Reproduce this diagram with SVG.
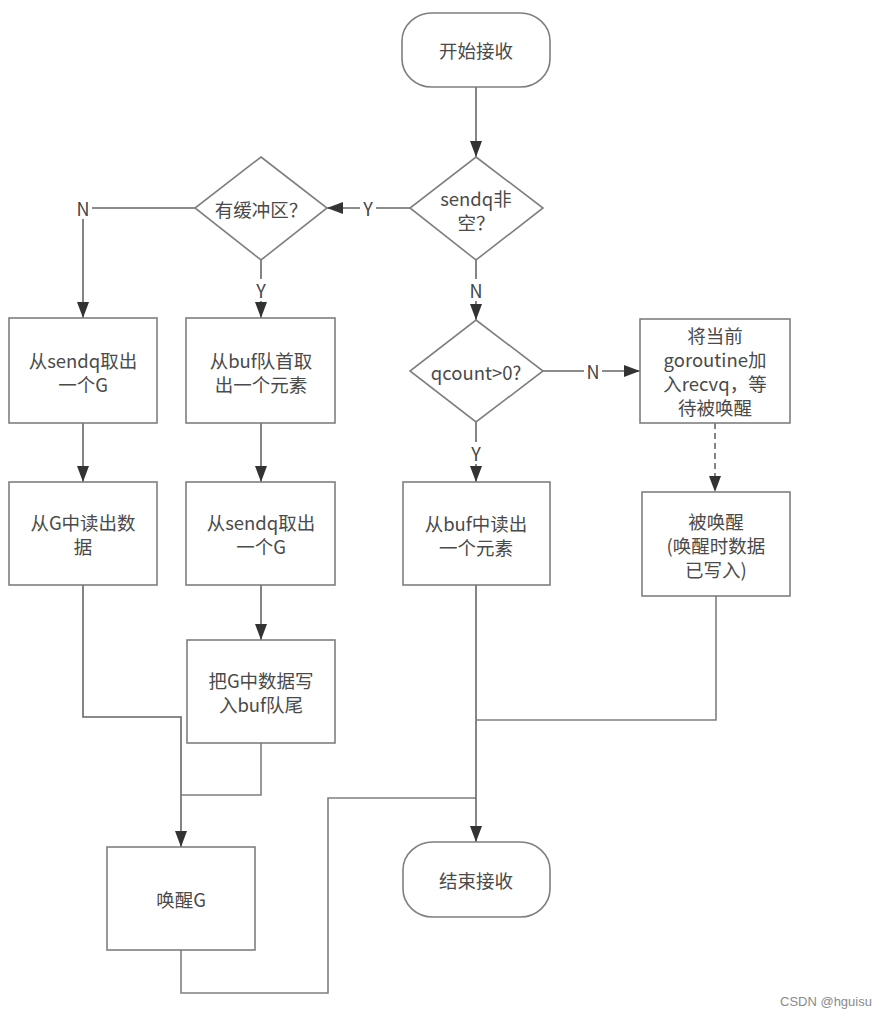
<svg xmlns="http://www.w3.org/2000/svg" width="872" height="1016" viewBox="0 0 872 1016">
<defs>
<marker id="arr" markerUnits="userSpaceOnUse" markerWidth="16" markerHeight="12" refX="16" refY="6" orient="auto">
<path d="M0,0 L16,6 L0,12 z" fill="#333"/>
</marker>
<style>
.box{fill:#fff;stroke:#7f7f7f;stroke-width:1.6}
.t{font-family:"Noto Sans CJK SC","Microsoft YaHei",sans-serif;font-size:18.5px;fill:#4a4a4a;text-anchor:middle;dominant-baseline:central}
.c{fill:none;stroke:#7f7f7f;stroke-width:1.6}
.ca{fill:none;stroke:#666;stroke-width:1.6;marker-end:url(#arr)}
.d{stroke-dasharray:6 4}
.lb{fill:#fff}
.l{font-family:"Noto Sans CJK SC","Microsoft YaHei",sans-serif;font-size:18px;fill:#444;text-anchor:middle;dominant-baseline:central}
.wm{font-family:"Liberation Sans",Arial,sans-serif;font-size:13px;fill:#8a8a8a}
</style>
</defs>
<rect width="872" height="1016" fill="#fff"/>
<g id="connectors">
<path class="ca" d="M476,87 V157"/>
<path class="ca" d="M410,208 H327"/>
<path class="ca" d="M195,208 H83 V318"/>
<path class="ca" d="M261,260 V318"/>
<path class="ca" d="M476,260 V320"/>
<path class="ca" d="M543,371 H640"/>
<path class="ca" d="M476,422 V482"/>
<path class="ca d" d="M715,423 V492"/>
<path class="ca" d="M83,423 V482"/>
<path class="ca" d="M261,423 V482"/>
<path class="ca" d="M261,585 V640"/>
<path class="ca" d="M83,585 V717 H181 V847"/>
<path class="c" d="M261,743 V795 H181"/>
<path class="c" d="M181,950 V993 H328 V798 H476"/>
<path class="ca" d="M476,585 V842"/>
<path class="c" d="M716,596 V720 H476"/>
<rect class="lb" x="360" y="197" width="16" height="22"/><text class="l" x="368" y="208">Y</text>
<rect class="lb" x="74" y="197" width="18" height="22"/><text class="l" x="83" y="208">N</text>
<rect class="lb" x="253" y="279" width="16" height="22"/><text class="l" x="261" y="290">Y</text>
<rect class="lb" x="467" y="279" width="18" height="22"/><text class="l" x="476" y="290">N</text>
<rect class="lb" x="584" y="360" width="18" height="22"/><text class="l" x="593" y="371">N</text>
<rect class="lb" x="468" y="442" width="16" height="22"/><text class="l" x="476" y="453">Y</text>
</g>
<g id="start"><rect class="box" x="402" y="13" width="148" height="74" rx="30" ry="28"/><text class="t" x="476" y="50">开始接收</text></g>
<g id="sendq"><polygon class="box" points="476,157 543,208 476,260 410,208"/><text class="t" x="476" y="198">sendq非</text><text class="t" x="476" y="222">空？</text></g>
<g id="hasbuf"><polygon class="box" points="261,157 327,208 261,260 195,208"/><text class="t" x="261" y="209">有缓冲区？</text></g>
<g id="take-sendq-1"><rect class="box" x="9" y="318" width="148" height="105"/><text class="t" x="83" y="360">从sendq取出</text><text class="t" x="83" y="384">一个G</text></g>
<g id="take-buf-head"><rect class="box" x="186" y="318" width="149" height="105"/><text class="t" x="261" y="360">从buf队首取</text><text class="t" x="261" y="384">出一个元素</text></g>
<g id="read-g"><rect class="box" x="9" y="482" width="148" height="103"/><text class="t" x="83" y="522">从G中读出数</text><text class="t" x="83" y="546">据</text></g>
<g id="take-sendq-2"><rect class="box" x="186" y="482" width="149" height="103"/><text class="t" x="261" y="522">从sendq取出</text><text class="t" x="261" y="546">一个G</text></g>
<g id="write-buf"><rect class="box" x="187" y="640" width="148" height="103"/><text class="t" x="261" y="680">把G中数据写</text><text class="t" x="261" y="704">入buf队尾</text></g>
<g id="wake-g"><rect class="box" x="107" y="847" width="148" height="103"/><text class="t" x="181" y="899">唤醒G</text></g>
<g id="qcount"><polygon class="box" points="476,320 543,371 476,422 410,371"/><text class="t" x="476" y="372">qcount&gt;0?</text></g>
<g id="read-buf"><rect class="box" x="403" y="482" width="147" height="103"/><text class="t" x="476" y="523">从buf中读出</text><text class="t" x="476" y="547">一个元素</text></g>
<g id="enqueue"><rect class="box" x="640" y="319" width="150" height="104"/><text class="t" x="715" y="335">将当前</text><text class="t" x="715" y="359">goroutine加</text><text class="t" x="715" y="383">入recvq，等</text><text class="t" x="715" y="407">待被唤醒</text></g>
<g id="woken"><rect class="box" x="642" y="492" width="148" height="104"/><text class="t" x="716" y="521">被唤醒</text><text class="t" x="716" y="545">(唤醒时数据</text><text class="t" x="716" y="569">已写入)</text></g>
<g id="end"><rect class="box" x="403" y="842" width="147" height="75" rx="30" ry="28"/><text class="t" x="476" y="880">结束接收</text></g>
<text class="wm" x="780" y="1006">CSDN @hguisu</text>
</svg>
